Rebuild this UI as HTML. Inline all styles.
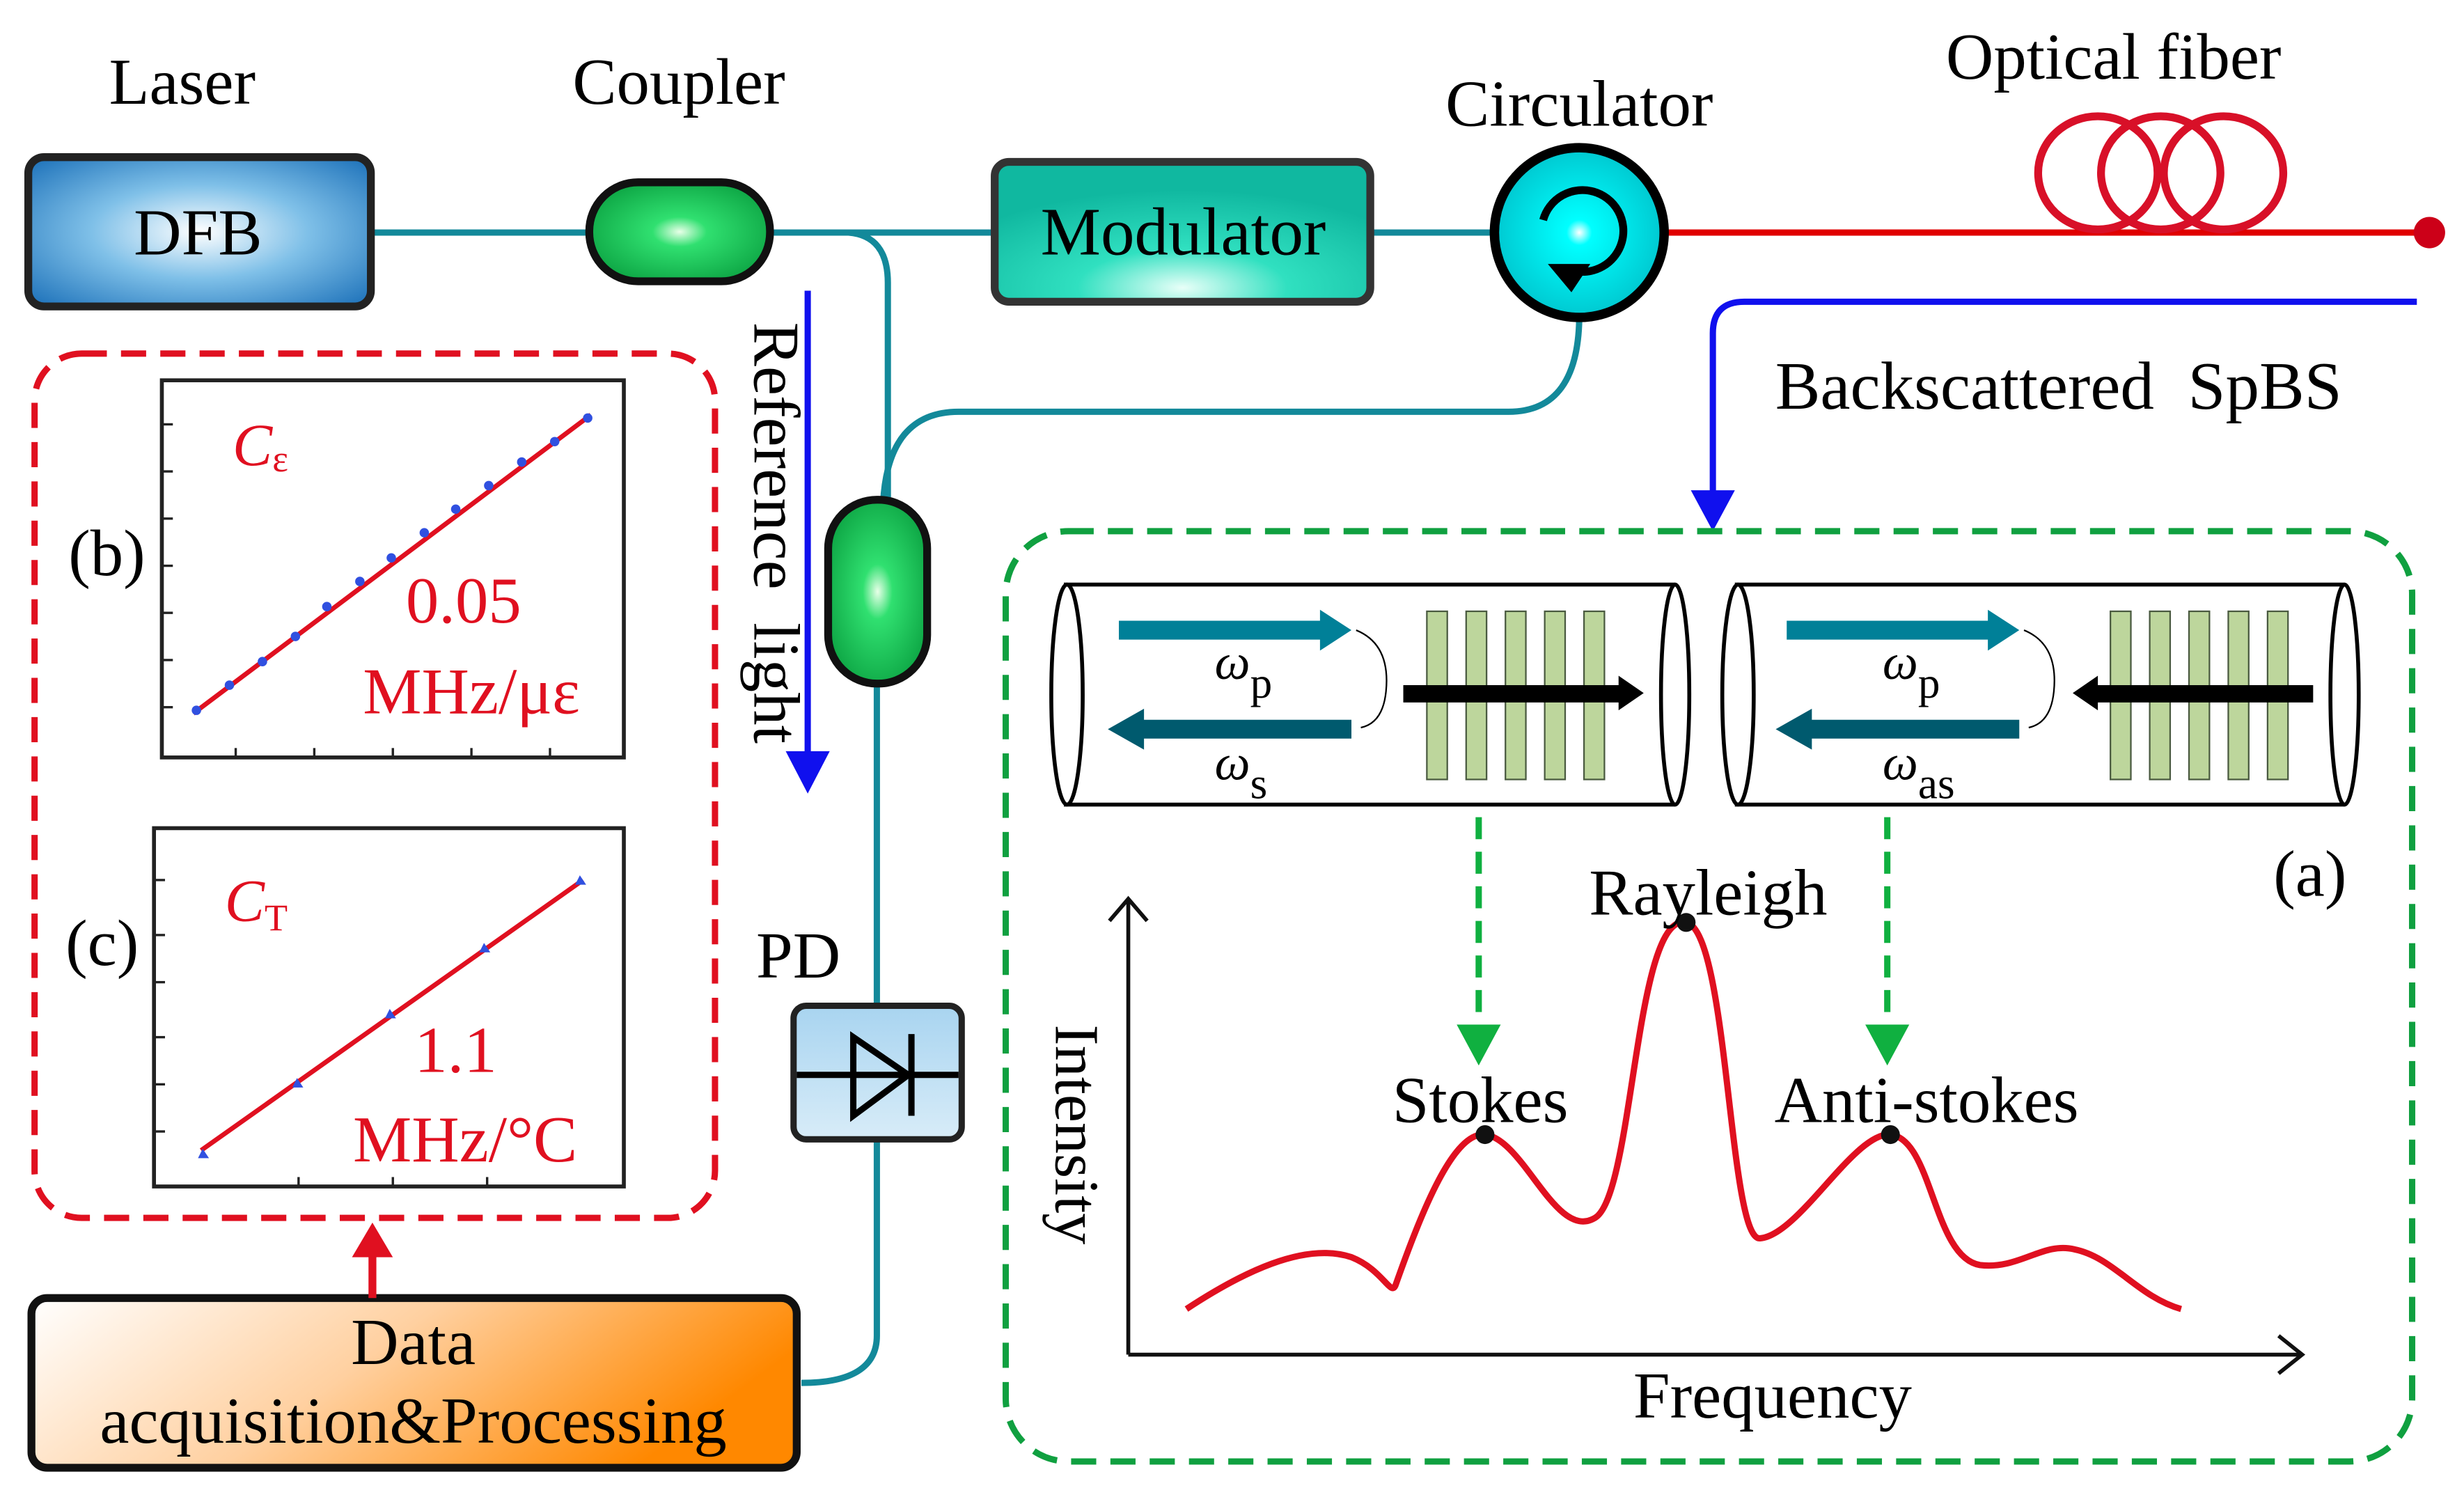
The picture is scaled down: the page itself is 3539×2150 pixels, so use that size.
<!DOCTYPE html>
<html><head><meta charset="utf-8"><style>
html,body{margin:0;padding:0;background:#fff;}
svg{display:block;}
text{font-family:"Liberation Serif",serif;}
</style></head><body>
<svg width="3539" height="2150" viewBox="0 0 1568 952.6" preserveAspectRatio="none" xmlns="http://www.w3.org/2000/svg">
<defs>
<radialGradient id="gdfb" cx="0.5" cy="0.5" r="0.7"><stop offset="0" stop-color="#ffffff"/><stop offset="0.45" stop-color="#7fc0e8"/><stop offset="1" stop-color="#1a6fb8"/></radialGradient>
<radialGradient id="ggreen" cx="0.5" cy="0.5" r="0.6"><stop offset="0" stop-color="#e8ffe8"/><stop offset="0.25" stop-color="#30e070"/><stop offset="1" stop-color="#0aa040"/></radialGradient>
<radialGradient id="gmod" cx="0.5" cy="0.9" r="0.7"><stop offset="0" stop-color="#e8fff8"/><stop offset="0.4" stop-color="#30e0c0"/><stop offset="1" stop-color="#10b8a0"/></radialGradient>
<radialGradient id="gcirc" cx="0.5" cy="0.5" r="0.5"><stop offset="0" stop-color="#ffffff"/><stop offset="0.15" stop-color="#00ffff"/><stop offset="1" stop-color="#00c8d0"/></radialGradient>
<linearGradient id="gdaq" x1="0" y1="0" x2="1" y2="0.3"><stop offset="0" stop-color="#ffffff"/><stop offset="0.5" stop-color="#ffd0a0"/><stop offset="1" stop-color="#ff8800"/></linearGradient>
<linearGradient id="gpd" x1="0" y1="0" x2="0" y2="1"><stop offset="0" stop-color="#a8d4f0"/><stop offset="1" stop-color="#d8ecf8"/></linearGradient>
</defs>

<g stroke="#13899a" stroke-width="4" fill="none">
<line x1="236" y1="148" x2="375" y2="148"/>
<line x1="490" y1="148" x2="635" y2="148"/>
<line x1="872" y1="148" x2="950" y2="148"/>
<path d="M540 148 Q565 150 565 180 L565 320"/>
<path d="M1005 200 Q1005 262 960 262 L610 262 Q565 262 562 320"/>
<line x1="558" y1="435" x2="558" y2="640"/>
<path d="M558 725 L558 850 Q558 880 510 880"/>
</g>

<text x="116" y="66" font-size="42" text-anchor="middle">Laser</text>
<rect x="18" y="100" width="218" height="95" rx="10" fill="url(#gdfb)" stroke="#222" stroke-width="5"/>
<text x="126" y="162" font-size="42" text-anchor="middle">DFB</text>

<text x="432" y="66" font-size="42" text-anchor="middle">Coupler</text>
<rect x="375" y="116" width="115" height="63" rx="31" fill="url(#ggreen)" stroke="#111" stroke-width="5"/>

<rect x="633" y="103" width="239" height="89" rx="9" fill="url(#gmod)" stroke="#333" stroke-width="5"/>
<text x="753" y="162" font-size="43" text-anchor="middle">Modulator</text>

<text x="1005" y="80" font-size="42" text-anchor="middle">Circulator</text>
<line x1="1060" y1="148" x2="1545" y2="148" stroke="#e00000" stroke-width="4"/>
<circle cx="1546" cy="148" r="10" fill="#cc0018"/>
<circle cx="1005" cy="148" r="54" fill="url(#gcirc)" stroke="#000" stroke-width="6"/>
<path d="M982 140 A26 26 0 1 1 1000 172" fill="none" stroke="#000" stroke-width="5"/>
<polygon points="985,168 1012,168 1000,186" fill="#000"/>

<text x="1345" y="50" font-size="42" text-anchor="middle">Optical fiber</text>
<g fill="none" stroke="#d81028" stroke-width="5">
<ellipse cx="1335" cy="110" rx="38" ry="36"/>
<ellipse cx="1375" cy="110" rx="38" ry="36"/>
<ellipse cx="1415" cy="110" rx="38" ry="36"/>
</g>

<path d="M1538 192 L1110 192 Q1090 192 1090 212 L1090 318" fill="none" stroke="#1010ee" stroke-width="4"/>
<polygon points="1076,312 1104,312 1090,338" fill="#1010ee"/>
<text x="1310" y="260" font-size="43" text-anchor="middle" xml:space="preserve">Backscattered  SpBS</text>

<line x1="514" y1="185" x2="514" y2="485" stroke="#1010ee" stroke-width="4"/>
<polygon points="500,478 528,478 514,505" fill="#1010ee"/>
<text transform="translate(480,205) rotate(90)" font-size="42" xml:space="preserve">Reference  light</text>

<rect x="527" y="318" width="63" height="117" rx="31" fill="url(#ggreen)" stroke="#111" stroke-width="5"/>

<text x="508" y="622" font-size="42" text-anchor="middle">PD</text>
<rect x="505" y="640" width="107" height="85" rx="8" fill="url(#gpd)" stroke="#222" stroke-width="4"/>
<g stroke="#000" stroke-width="4" fill="none">
<line x1="507" y1="684" x2="610" y2="684"/>
<polygon points="543,660 543,710 578,684"/>
<line x1="580" y1="658" x2="580" y2="710"/>
</g>

<rect x="20" y="826" width="487" height="108" rx="10" fill="url(#gdaq)" stroke="#111" stroke-width="5"/>
<text x="263" y="868" font-size="42" text-anchor="middle">Data</text>
<text x="263" y="918" font-size="42" text-anchor="middle">acquisition&amp;Processing</text>
<line x1="237" y1="826" x2="237" y2="795" stroke="#e01020" stroke-width="5"/>
<polygon points="224,800 250,800 237,778" fill="#e01020"/>

<rect x="22" y="225" width="433" height="550" rx="30" fill="none" stroke="#e01020" stroke-width="4" stroke-dasharray="16,9"/>
<rect x="103" y="242" width="294" height="240" fill="none" stroke="#222" stroke-width="2.5"/>
<g stroke="#222" stroke-width="1.5">
<line x1="103" y1="270" x2="110" y2="270"/><line x1="103" y1="300" x2="110" y2="300"/><line x1="103" y1="330" x2="110" y2="330"/><line x1="103" y1="360" x2="110" y2="360"/><line x1="103" y1="390" x2="110" y2="390"/><line x1="103" y1="420" x2="110" y2="420"/><line x1="103" y1="450" x2="110" y2="450"/>
<line x1="150" y1="482" x2="150" y2="476"/><line x1="200" y1="482" x2="200" y2="476"/><line x1="250" y1="482" x2="250" y2="476"/><line x1="300" y1="482" x2="300" y2="476"/><line x1="350" y1="482" x2="350" y2="476"/>
</g>
<line x1="123" y1="454" x2="376" y2="264" stroke="#e01020" stroke-width="3"/>
<g fill="#3050e0">
<circle cx="125" cy="452" r="3"/><circle cx="146" cy="436" r="3"/><circle cx="167" cy="421" r="3"/><circle cx="188" cy="405" r="3"/><circle cx="208" cy="386" r="3"/><circle cx="229" cy="370" r="3"/><circle cx="249" cy="355" r="3"/><circle cx="270" cy="339" r="3"/><circle cx="290" cy="324" r="3"/><circle cx="311" cy="309" r="3"/><circle cx="332" cy="294" r="3"/><circle cx="353" cy="281" r="3"/><circle cx="374" cy="266" r="3"/>
</g>
<text x="148" y="296" font-size="38" fill="#e01020" font-style="italic">C<tspan font-size="24" dy="4" font-style="normal">ε</tspan></text>
<text x="295" y="396" font-size="42" fill="#e01020" text-anchor="middle">0.05</text>
<text x="300" y="454" font-size="42" fill="#e01020" text-anchor="middle">MHz/με</text>
<text x="68" y="366" font-size="42" text-anchor="middle">(b)</text>
<rect x="98" y="527" width="299" height="228" fill="none" stroke="#222" stroke-width="2.5"/>
<g stroke="#222" stroke-width="1.5">
<line x1="98" y1="560" x2="105" y2="560"/><line x1="98" y1="595" x2="105" y2="595"/><line x1="98" y1="625" x2="105" y2="625"/><line x1="98" y1="660" x2="105" y2="660"/><line x1="98" y1="690" x2="105" y2="690"/><line x1="98" y1="720" x2="105" y2="720"/>
<line x1="190" y1="755" x2="190" y2="749"/><line x1="250" y1="755" x2="250" y2="749"/><line x1="310" y1="755" x2="310" y2="749"/>
</g>
<line x1="128" y1="732" x2="371" y2="560" stroke="#e01020" stroke-width="3"/>
<g fill="#3050e0">
<polygon points="126,737 133,737 129,731"/><polygon points="186,692 193,692 189,686"/><polygon points="245,648 252,648 248,642"/><polygon points="305,606 312,606 308,600"/><polygon points="366,563 373,563 369,557"/>
</g>
<text x="143" y="586" font-size="38" fill="#e01020" font-style="italic">C<tspan font-size="24" dy="6" font-style="normal">T</tspan></text>
<text x="290" y="682" font-size="42" fill="#e01020" text-anchor="middle">1.1</text>
<text x="296" y="739" font-size="42" fill="#e01020" text-anchor="middle">MHz/°C</text>
<text x="65" y="614" font-size="42" text-anchor="middle">(c)</text>

<rect x="640" y="338" width="895" height="592" rx="40" fill="none" stroke="#10a040" stroke-width="4" stroke-dasharray="16,9"/>
<text x="1470" y="570" font-size="42" text-anchor="middle">(a)</text>

<g stroke="#000" stroke-width="2.5" fill="none">
<line x1="677" y1="372" x2="1066" y2="372"/><line x1="677" y1="512" x2="1066" y2="512"/>
<ellipse cx="679" cy="442" rx="10" ry="70"/><ellipse cx="1066" cy="442" rx="9" ry="70"/>
<line x1="1104" y1="372" x2="1492" y2="372"/><line x1="1104" y1="512" x2="1492" y2="512"/>
<ellipse cx="1106" cy="442" rx="10" ry="70"/><ellipse cx="1492" cy="442" rx="9" ry="70"/>
</g>
<g fill="#bdd69c" stroke="#4a5a40" stroke-width="1">
<rect x="908" y="389" width="13" height="107"/><rect x="933" y="389" width="13" height="107"/><rect x="958" y="389" width="13" height="107"/><rect x="983" y="389" width="13" height="107"/><rect x="1008" y="389" width="13" height="107"/>
<rect x="1343" y="389" width="13" height="107"/><rect x="1368" y="389" width="13" height="107"/><rect x="1393" y="389" width="13" height="107"/><rect x="1418" y="389" width="13" height="107"/><rect x="1443" y="389" width="13" height="107"/>
</g>
<polygon points="893,436 1030,436 1030,430 1046,441 1030,452 1030,447 893,447" fill="#000"/>
<polygon points="1472,436 1335,436 1335,430 1319,441 1335,452 1335,447 1472,447" fill="#000"/>
<g>
<polygon points="712,395 840,395 840,388 860,401 840,414 840,407 712,407" fill="#008098"/>
<polygon points="860,458 728,458 728,451 705,464 728,477 728,470 860,470" fill="#005a6e"/>
<path d="M863 401 Q885 410 882 440 Q880 460 866 463" fill="none" stroke="#000" stroke-width="1"/>
<text x="773" y="432" font-size="32" font-style="italic">ω<tspan font-size="28" font-style="normal" dy="12">p</tspan></text>
<text x="773" y="496" font-size="32" font-style="italic">ω<tspan font-size="28" font-style="normal" dy="12">s</tspan></text>
<polygon points="1137,395 1265,395 1265,388 1285,401 1265,414 1265,407 1137,407" fill="#008098"/>
<polygon points="1285,458 1153,458 1153,451 1130,464 1153,477 1153,470 1285,470" fill="#005a6e"/>
<path d="M1288 401 Q1310 410 1307 440 Q1305 460 1291 463" fill="none" stroke="#000" stroke-width="1"/>
<text x="1198" y="432" font-size="32" font-style="italic">ω<tspan font-size="28" font-style="normal" dy="12">p</tspan></text>
<text x="1198" y="496" font-size="32" font-style="italic">ω<tspan font-size="28" font-style="normal" dy="12">as</tspan></text>
</g>

<g stroke="#10b040" stroke-width="4" stroke-dasharray="14,8">
<line x1="941" y1="520" x2="941" y2="655"/><line x1="1201" y1="520" x2="1201" y2="655"/>
</g>
<polygon points="927,652 955,652 941,678" fill="#10b040"/>
<polygon points="1187,652 1215,652 1201,678" fill="#10b040"/>

<g stroke="#111" stroke-width="2.5" fill="none">
<line x1="718" y1="862" x2="718" y2="572"/><polyline points="706,586 718,572 730,586"/>
<line x1="718" y1="862" x2="1465" y2="862"/><polyline points="1450,850 1465,862 1450,874"/>
</g>
<text transform="translate(672,652) rotate(90)" font-size="40">Intensity</text>
<text x="1128" y="902" font-size="42" text-anchor="middle">Frequency</text>
<path d="M755 833 C790 810 830 790 860 800 C880 808 885 825 888 818 C905 770 925 720 945 722 C970 725 990 790 1015 775 C1040 760 1040 580 1073 587 C1100 592 1100 790 1120 788 C1145 786 1180 720 1203 722 C1230 725 1230 800 1260 805 C1285 808 1300 790 1320 795 C1345 800 1360 825 1388 833" fill="none" stroke="#e01020" stroke-width="4"/>
<circle cx="945" cy="722" r="6" fill="#111"/><circle cx="1073" cy="587" r="6" fill="#111"/><circle cx="1203" cy="722" r="6" fill="#111"/>
<text x="1087" y="582" font-size="42" text-anchor="middle">Rayleigh</text>
<text x="942" y="714" font-size="42" text-anchor="middle">Stokes</text>
<text x="1226" y="714" font-size="42" text-anchor="middle">Anti-stokes</text>
</svg>
</body></html>
